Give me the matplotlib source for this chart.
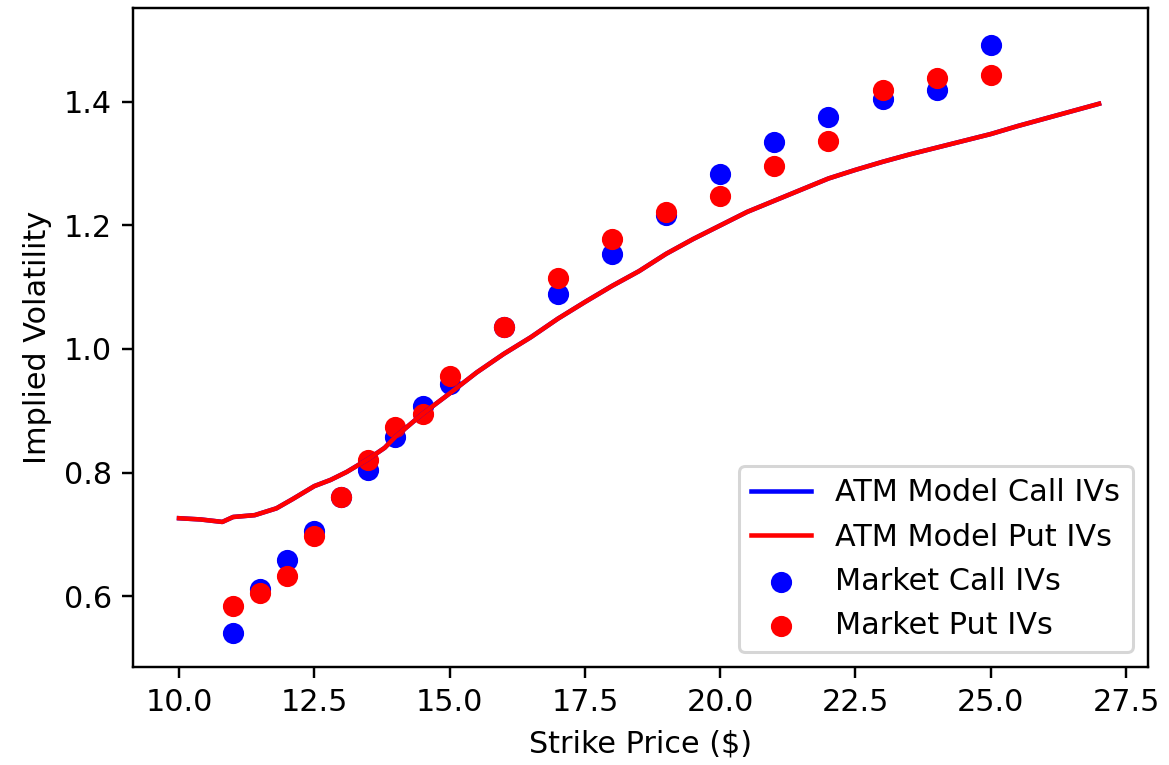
import numpy as np
import matplotlib
matplotlib.use("Agg")
import matplotlib.pyplot as plt

# Strikes for the market quotes
strikes = [11, 11.5, 12, 12.5, 13, 13.5, 14, 14.5, 15, 16, 17, 18, 19, 20, 21, 22, 23, 24, 25]
# Market implied vols
market_call_iv = [0.540, 0.612, 0.658, 0.705, 0.760, 0.804, 0.858, 0.907, 0.944, 1.036, 1.089,
                  1.154, 1.217, 1.283, 1.335, 1.376, 1.404, 1.419, 1.492]
market_put_iv = [0.584, 0.605, 0.632, 0.697, 0.760, 0.820, 0.874, 0.895, 0.957, 1.036, 1.115,
                 1.178, 1.222, 1.248, 1.296, 1.336, 1.419, 1.438, 1.444]

# ATM model curve (call and put coincide)
model_strikes = [10.0, 10.4, 10.8, 11.0, 11.4, 11.8, 12.1, 12.5, 12.8, 13.1, 13.5, 13.8, 14.0,
                 14.5, 15.0, 15.5, 16.0, 16.5, 17.0, 17.5, 18.0, 18.5, 19.0, 19.5, 20.0, 20.5,
                 21.0, 21.5, 22.0, 22.5, 23.0, 23.5, 24.0, 24.5, 25.0, 25.5, 26.0, 26.5, 27.0]
model_call_iv = [0.726, 0.724, 0.720, 0.728, 0.731, 0.742, 0.757, 0.778, 0.788, 0.801, 0.822,
                 0.840, 0.858, 0.895, 0.928, 0.962, 0.992, 1.019, 1.049, 1.076, 1.102, 1.126,
                 1.154, 1.178, 1.200, 1.222, 1.240, 1.258, 1.276, 1.290, 1.303, 1.315, 1.326,
                 1.337, 1.348, 1.361, 1.373, 1.385, 1.397]
model_put_iv = list(model_call_iv)

DPI = 218
fig = plt.figure(figsize=(1169 / DPI, 765 / DPI), dpi=DPI)
ax = fig.add_axes([0.1138, 0.128, 0.868, 0.8615])

ax.plot(model_strikes, model_call_iv, color='b', label='ATM Model Call IVs')
ax.plot(model_strikes, model_put_iv, color='r', label='ATM Model Put IVs')
ax.scatter(strikes, market_call_iv, color='b', label='Market Call IVs')
ax.scatter(strikes, market_put_iv, color='r', label='Market Put IVs')

ax.set_xlim(9.15, 27.9)
ax.set_ylim(0.485, 1.552)
ax.set_xlabel('Strike Price ($)')
ax.set_ylabel('Implied Volatility')
ax.legend(loc='lower right', scatterpoints=1)

fig.savefig('out.png', dpi=DPI)
